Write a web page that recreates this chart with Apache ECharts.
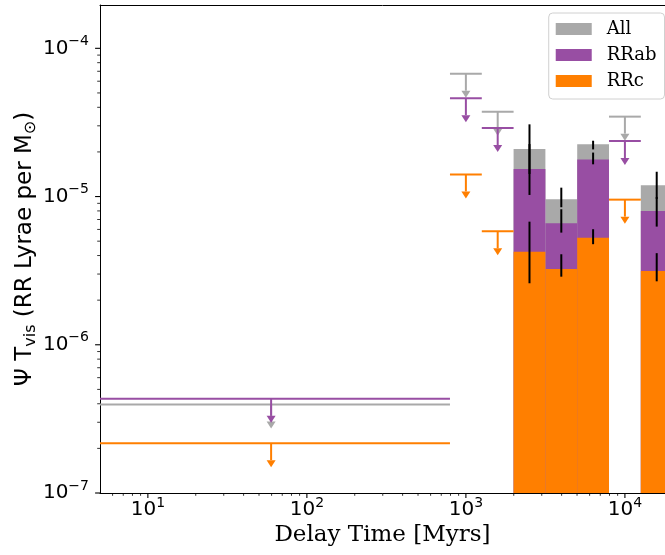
<!DOCTYPE html>
<html><head><meta charset="utf-8">
<script src="https://cdn.jsdelivr.net/npm/echarts@6/dist/echarts.min.js"></script>
<style>html,body{margin:0;padding:0;background:#fff}#c{width:665px;height:555px}</style>
</head><body><div id="c"></div>
<script>
// ---- data ----
const binLow  = [4.47, 794, 1259, 1995, 3162, 5012, 7943, 12589];
const binHigh = [794, 1259, 1995, 3162, 5012, 7943, 12589, 19953];
const isUpperLimit = [true, true, true, false, false, false, true, false];

const allValues  = [3.95e-7, 6.74e-5, 3.74e-5, 2.09e-5, 9.59e-6, 2.25e-5, 3.46e-5, 1.19e-5];
const rrabValues = [4.32e-7, 4.60e-5, 2.90e-5, 1.535e-5, 6.61e-6, 1.78e-5, 2.37e-5, 7.99e-6];
const rrcValues  = [2.17e-7, 1.41e-5, 5.83e-6, 4.25e-6, 3.25e-6, 5.28e-6, 9.53e-6, 3.15e-6];

const allErrLow   = [null, null, null, 1.42e-5, 8.47e-6, 2.08e-5, null, 9.63e-6];
const allErrHigh  = [null, null, null, 3.07e-5, 1.148e-5, 2.38e-5, null, 1.47e-5];
const rrabErrLow  = [null, null, null, 1.025e-5, 5.71e-6, 1.65e-5, null, 6.27e-6];
const rrabErrHigh = [null, null, null, 2.26e-5, 8.21e-6, 1.98e-5, null, 9.94e-6];
const rrcErrLow   = [null, null, null, 2.60e-6, 2.88e-6, 4.77e-6, null, 2.68e-6];
const rrcErrHigh  = [null, null, null, 6.77e-6, 4.08e-6, 6.02e-6, null, 4.15e-6];

const seriesNames = ['All', 'RRab', 'RRc'];
const xTickValues = [10, 100, 1000, 10000];
const yTickValues = [1e-7, 1e-6, 1e-5, 1e-4];
const xLabel = 'Delay Time [Myrs]';

const X_MIN = 5, X_MAX = 17870, Y_MIN = 1e-7, Y_MAX = 1.96e-4;
const COLORS = ['#a9a9a9', '#984ea3', '#ff7f00'];

// ---- helpers ----
function powLabel(v) {
  const e = Math.log10(v), r = Math.round(e);
  if (Math.abs(e - r) > 1e-6) return '';
  return '{b|10}{s|' + (r < 0 ? '\u2212' + (-r) : r) + '}';
}
const labelRich = {
  b: {fontFamily: 'DejaVu Sans', fontSize: 20, color: '#000', lineHeight: 28},
  s: {fontFamily: 'DejaVu Sans', fontSize: 14, color: '#000', verticalAlign: 'top', lineHeight: 14}
};

function histSeries(name, color, values) {
  const data = values.map((v, i) => [binLow[i], binHigh[i], v, isUpperLimit[i] ? 1 : 0]);
  return {
    type: 'custom', name: name, clip: true, itemStyle: {color: color},
    encode: {x: [0, 1], y: 2}, data: data, z: 2,
    renderItem: function (params, api) {
      const lo = api.value(0), hi = api.value(1), v = api.value(2), lim = api.value(3);
      if (lim) {
        const c = Math.sqrt(lo * hi);
        const pL = api.coord([lo, v]), pR = api.coord([hi, v]), pC = api.coord([c, v]);
        const len = 24, headH = 7, headW = 9;
        return {type: 'group', children: [
          {type: 'line', shape: {x1: pL[0], y1: pL[1], x2: pR[0], y2: pR[1]}, style: {stroke: color, lineWidth: 2}},
          {type: 'line', shape: {x1: pC[0], y1: pC[1], x2: pC[0], y2: pC[1] + len - headH}, style: {stroke: color, lineWidth: 2}},
          {type: 'polygon', shape: {points: [[pC[0] - headW / 2, pC[1] + len - headH], [pC[0] + headW / 2, pC[1] + len - headH], [pC[0], pC[1] + len]]}, style: {fill: color}}
        ]};
      }
      const p1 = api.coord([lo, v]), p2 = api.coord([hi, Y_MIN]);
      return {type: 'rect', shape: {x: p1[0], y: p1[1], width: p2[0] - p1[0], height: p2[1] - p1[1]}, style: {fill: color}};
    }
  };
}

const errData = [];
[[allErrLow, allErrHigh], [rrabErrLow, rrabErrHigh], [rrcErrLow, rrcErrHigh]].forEach(function (pair) {
  pair[0].forEach(function (l, i) {
    if (l != null) errData.push([Math.sqrt(binLow[i] * binHigh[i]), l, pair[1][i]]);
  });
});

// tick marks (axis decoration)
const tickData = [];
xTickValues.forEach(v => tickData.push([v, Y_MIN, 0, 1]));
yTickValues.forEach(v => tickData.push([X_MIN, v, 1, 1]));
for (let k = 0; k <= 4; k++) for (let m = 2; m <= 9; m++) {
  const v = m * Math.pow(10, k);
  if (v > X_MIN * 1.001 && v < X_MAX) tickData.push([v, Y_MIN, 0, 0]);
}
for (let k = -7; k <= -4; k++) for (let m = 2; m <= 9; m++) {
  const v = m * Math.pow(10, k);
  if (v > Y_MIN && v < Y_MAX) tickData.push([X_MIN, v, 1, 0]);
}

const chart = echarts.init(document.getElementById('c'), null, {renderer: 'canvas'});
chart.setOption({
  animation: false,
  backgroundColor: '#ffffff',
  grid: {left: 100, right: 0, top: 5, bottom: 62, containLabel: false, outerBoundsMode: 'none'},
  legend: {
    data: seriesNames, orient: 'vertical', right: 0.5, top: 13,
    icon: 'rect', itemWidth: 36, itemHeight: 12, itemGap: 6,
    backgroundColor: 'rgba(255,255,255,0.8)', borderColor: '#d0d0d0', borderWidth: 1, borderRadius: 4,
    padding: [6, 8, 8, 7], selectedMode: false,
    textStyle: {fontFamily: 'DejaVu Serif', fontSize: 18, color: '#000', padding: [0, 0, 0, 10], lineHeight: 20}
  },
  xAxis: [{
    type: 'log', logBase: 10, min: X_MIN, max: X_MAX,
    name: xLabel, nameLocation: 'middle', nameGap: 31, nameMoveOverlap: false,
    nameTextStyle: {fontFamily: 'DejaVu Serif', fontSize: 23, color: '#000'},
    axisLine: {show: true, onZero: false, lineStyle: {color: '#000', width: 1}},
    axisTick: {show: false}, splitLine: {show: false}, minorTick: {show: false},
    axisLabel: {margin: 3, formatter: powLabel, rich: labelRich, showMinLabel: true, showMaxLabel: true, hideOverlap: false}
  }, {
    type: 'log', logBase: 10, min: X_MIN, max: X_MAX, position: 'top',
    axisLine: {show: true, onZero: false, lineStyle: {color: '#000', width: 1}},
    axisTick: {show: false}, axisLabel: {show: false}, splitLine: {show: false}
  }],
  yAxis: {
    type: 'log', logBase: 10, min: Y_MIN, max: Y_MAX,
    name: '{n|\u03a8 T}{sub|vis}{n| (RR Lyrae per M}{sub|\u2299}{n|)}',
    nameLocation: 'middle', nameGap: 61, nameRotate: 90, nameMoveOverlap: false,
    nameTextStyle: {fontFamily: 'DejaVu Sans', fontSize: 23, color: '#000', rich: {
      n: {fontFamily: 'DejaVu Sans', fontSize: 23, color: '#000', lineHeight: 27},
      sub: {fontFamily: 'DejaVu Sans', fontSize: 16, color: '#000', lineHeight: 16, verticalAlign: 'bottom'}
    }},
    axisLine: {show: true, onZero: false, lineStyle: {color: '#000', width: 1}},
    axisTick: {show: false}, splitLine: {show: false}, minorTick: {show: false},
    axisLabel: {margin: 11, formatter: powLabel, rich: labelRich, showMinLabel: true, showMaxLabel: true, hideOverlap: false}
  },
  series: [
    histSeries('All', COLORS[0], allValues),
    histSeries('RRab', COLORS[1], rrabValues),
    histSeries('RRc', COLORS[2], rrcValues),
    {
      type: 'custom', name: 'errors', clip: true, z: 3, encode: {x: 0, y: [1, 2]}, data: errData,
      renderItem: function (params, api) {
        const a = api.coord([api.value(0), api.value(1)]), b = api.coord([api.value(0), api.value(2)]);
        return {type: 'line', shape: {x1: a[0], y1: a[1], x2: b[0], y2: b[1]}, style: {stroke: '#000', lineWidth: 2}};
      }
    },
    {
      type: 'custom', name: 'ticks', clip: false, z: 5, silent: true, data: tickData, encode: {x: 0, y: 1},
      renderItem: function (params, api) {
        const p = api.coord([api.value(0), api.value(1)]);
        const isY = api.value(2) === 1, major = api.value(3) === 1;
        const L = major ? 4.9 : 2.8, w = major ? 1.1 : 0.8;
        const shape = isY ? {x1: p[0] - L, y1: p[1], x2: p[0], y2: p[1]} : {x1: p[0], y1: p[1], x2: p[0], y2: p[1] + L};
        return {type: 'line', shape: shape, style: {stroke: '#000', lineWidth: w}};
      }
    }
  ]
});
</script></body></html>
